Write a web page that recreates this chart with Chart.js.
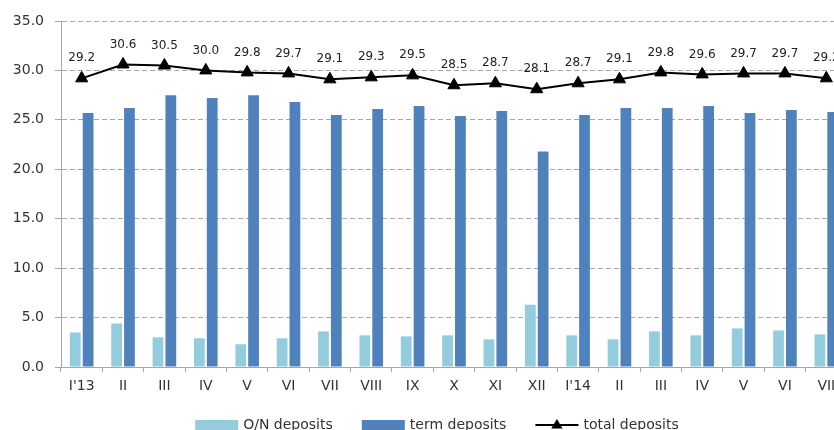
<!DOCTYPE html>
<html>
<head>
<meta charset="utf-8">
<script src="https://cdn.jsdelivr.net/npm/chart.js@4/dist/chart.umd.min.js"></script>
<style>
  html, body { margin: 0; padding: 0; background: #fff; overflow: hidden; }
  #wrap { width: 874px; height: 445px; }
</style>
</head>
<body>
<div id="wrap"><canvas id="c" width="874" height="445"></canvas></div>
<script>
// Monthly deposits, Jan 2013 – Jul 2014
const months = ["I'13", "II", "III", "IV", "V", "VI", "VII", "VIII", "IX", "X", "XI", "XII",
                "I'14", "II", "III", "IV", "V", "VI", "VII"];
const overnightDeposits = [3.5, 4.4, 3.0, 2.9, 2.3, 2.9, 3.6, 3.2, 3.1, 3.2, 2.8, 6.3,
                           3.2, 2.8, 3.6, 3.2, 3.9, 3.7, 3.3];
const termDeposits = [25.7, 26.2, 27.5, 27.2, 27.5, 26.8, 25.5, 26.1, 26.4, 25.4, 25.9, 21.8,
                      25.5, 26.2, 26.2, 26.4, 25.7, 26.0, 25.8];
const totalDeposits = [29.2, 30.6, 30.5, 30.0, 29.8, 29.7, 29.1, 29.3, 29.5, 28.5, 28.7, 28.1,
                       28.7, 29.1, 29.8, 29.6, 29.7, 29.7, 29.2];
const yTicks = [0, 5, 10, 15, 20, 25, 30, 35];

const FONT = "'DejaVu Sans', Verdana, sans-serif";
const COL_ON = '#93CDDD';
const COL_TERM = '#4F81BD';
const COL_TOTAL = '#000000';
const TEXT = '#333333';

// Value labels above the total-deposits line
const totalLabels = {
  id: 'totalLabels',
  afterDatasetsDraw(chart) {
    const meta = chart.getDatasetMeta(0);
    const ctx = chart.ctx;
    ctx.save();
    ctx.font = '12px ' + FONT;
    ctx.fillStyle = '#222';
    ctx.textAlign = 'center';
    ctx.textBaseline = 'middle';
    meta.data.forEach((pt, i) => {
      ctx.fillText(totalDeposits[i].toFixed(1), pt.x, pt.y - 20);
    });
    ctx.restore();
  }
};

// Legend row under the axis
const bottomLegend = {
  id: 'bottomLegend',
  afterDraw(chart) {
    const ctx = chart.ctx;
    const items = [
      { text: 'O/N deposits', kind: 'box', color: COL_ON },
      { text: 'term deposits', kind: 'box', color: COL_TERM },
      { text: 'total deposits', kind: 'line', color: COL_TOTAL }
    ];
    const sw = 43, gap = 5, spacing = 29;
    ctx.save();
    ctx.font = '14px ' + FONT;
    let total = 0;
    items.forEach((it, i) => {
      it.w = ctx.measureText(it.text).width;
      total += sw + gap + it.w + (i ? spacing : 0);
    });
    let x = chart.width / 2 - total / 2;
    const y = 425;
    items.forEach(it => {
      if (it.kind === 'box') {
        ctx.fillStyle = it.color;
        ctx.fillRect(x, y - 5, sw, 10);
      } else {
        ctx.strokeStyle = it.color;
        ctx.lineWidth = 2;
        ctx.beginPath();
        ctx.moveTo(x, y);
        ctx.lineTo(x + sw, y);
        ctx.stroke();
        const cx = x + sw / 2, r = 6;
        ctx.fillStyle = it.color;
        ctx.beginPath();
        ctx.moveTo(cx, y - r);
        ctx.lineTo(cx + r * 0.95, y + r * 0.6);
        ctx.lineTo(cx - r * 0.95, y + r * 0.6);
        ctx.closePath();
        ctx.fill();
      }
      ctx.fillStyle = TEXT;
      ctx.textAlign = 'left';
      ctx.textBaseline = 'middle';
      ctx.fillText(it.text, x + sw + gap, y);
      x += sw + gap + it.w + spacing;
    });
    ctx.restore();
  }
};

new Chart(document.getElementById('c'), {
  type: 'bar',
  data: {
    labels: months,
    datasets: [
      {
        type: 'line',
        label: 'total deposits',
        data: totalDeposits,
        borderColor: COL_TOTAL,
        backgroundColor: COL_TOTAL,
        borderWidth: 2,
        pointStyle: 'triangle',
        pointRadius: 7,
        pointBorderWidth: 1,
        pointBackgroundColor: COL_TOTAL,
        tension: 0,
        order: 0
      },
      {
        label: 'O/N deposits',
        data: overnightDeposits,
        backgroundColor: COL_ON,
        categoryPercentage: 0.62,
        barPercentage: 0.84,
        order: 1
      },
      {
        label: 'term deposits',
        data: termDeposits,
        backgroundColor: COL_TERM,
        categoryPercentage: 0.62,
        barPercentage: 0.84,
        order: 1
      }
    ]
  },
  options: {
    responsive: false,
    animation: false,
    devicePixelRatio: 1,
    layout: { padding: { top: 21, right: 27, bottom: 48, left: 0 } },
    plugins: {
      legend: { display: false },
      tooltip: { enabled: false }
    },
    scales: {
      x: {
        offset: true,
        grid: {
          offset: true,
          drawOnChartArea: false,
          drawTicks: true,
          tickLength: 5,
          color: '#A6A6A6',
          lineWidth: 1
        },
        border: { color: '#A6A6A6', width: 1 },
        ticks: {
          font: { family: FONT, size: 14 },
          color: TEXT,
          padding: 6,
          maxRotation: 0,
          autoSkip: false
        },
        afterFit(scale) { scale.height = 30; }
      },
      y: {
        min: 0,
        max: 35,
        afterBuildTicks(scale) { scale.ticks = yTicks.map(v => ({ value: v })); },
        grid: {
          color: '#A6A6A6',
          lineWidth: 1,
          tickLength: 6,
          drawTicks: true
        },
        border: { color: '#A6A6A6', width: 1, dash: [5, 3] },
        ticks: {
          font: { family: FONT, size: 14 },
          color: TEXT,
          padding: 11,
          callback: v => Number(v).toFixed(1)
        },
        afterFit(scale) { scale.width = 61; }
      }
    }
  },
  plugins: [totalLabels, bottomLegend]
});
</script>
</body>
</html>
